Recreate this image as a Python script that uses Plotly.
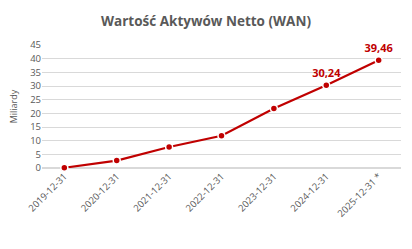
import plotly.graph_objects as go

categories = ["2019-12-31", "2020-12-31", "2021-12-31", "2022-12-31",
              "2023-12-31", "2024-12-31", "2025-12-31 *"]
values = [0.1, 2.7, 7.7, 11.8, 21.8, 30.24, 39.46]
labels = ["", "", "", "", "", "30,24", "39,46"]

red = "#C00000"
gray = "#595959"

fig = go.Figure(go.Scatter(
    x=categories, y=values, mode="lines+markers+text",
    line=dict(color=red, width=2.2),
    marker=dict(color=red, size=7, line=dict(color="white", width=1.5)),
    text=labels, textposition="top center",
    textfont=dict(family="Open Sans", size=11, color=red, weight="bold"),
    cliponaxis=False, hoverinfo="skip",
))

fig.update_layout(
    width=412, height=249,
    margin=dict(l=42, r=11, t=45, b=81),
    paper_bgcolor="white", plot_bgcolor="white",
    showlegend=False,
    title=dict(text="<b>Wartość Aktywów Netto (WAN)</b>", x=0.5, xanchor="center",
               y=0.915, yanchor="middle",
               font=dict(family="Open Sans", size=13.5, color=gray)),
    font=dict(family="Open Sans", color=gray),
)
fig.update_xaxes(type="category", tickangle=-45, showgrid=False, showline=False,
                 ticks="", tickfont=dict(size=9.5, color=gray))
fig.update_yaxes(range=[0, 45], dtick=5, showgrid=True, gridcolor="#D9D9D9",
                 gridwidth=1, zeroline=True, zerolinecolor="#D9D9D9",
                 showline=False, ticks="", tickfont=dict(size=9.5, color=gray),
                 title=dict(text="Miliardy", font=dict(size=9, color=gray), standoff=10))

fig.write_html("out.html")
